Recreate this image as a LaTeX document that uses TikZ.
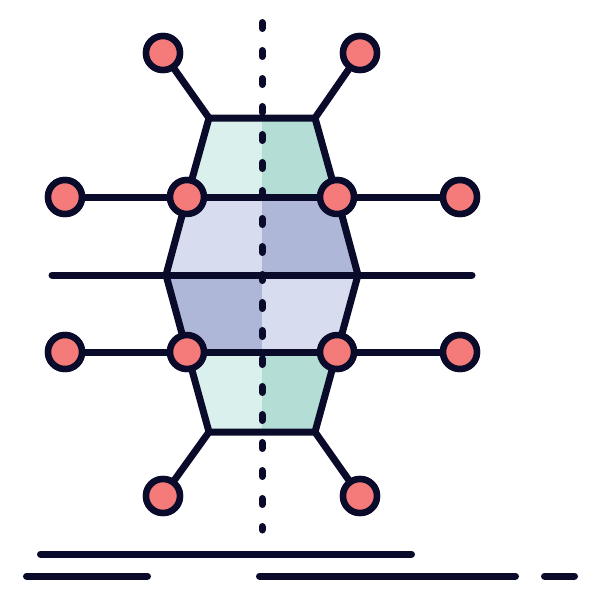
\documentclass[tikz,border=0pt]{standalone}
\usetikzlibrary{positioning}
\definecolor{ink}{HTML}{0A0B2B}
\definecolor{salmon}{HTML}{F47B79}
\definecolor{tealL}{HTML}{D9F0EC}
\definecolor{tealD}{HTML}{B4DED5}
\definecolor{lavL}{HTML}{D7DDEF}
\definecolor{lavD}{HTML}{AEB7D7}

\begin{document}
\begin{tikzpicture}[x=1pt,y=-1pt,line width=7pt,line cap=round,line join=round,
  dot/.style={circle,fill=salmon,draw=ink,line width=6.5pt,minimum size=34pt,inner sep=0pt}]
  \useasboundingbox (0,0) rectangle (600,600);
  % corners of the shape
  \coordinate (t1) at (209,118);
  \coordinate (t2) at (315,118);
  \coordinate (m1) at (166,275);
  \coordinate (m2) at (358,275);
  \coordinate (b1) at (209,432);
  \coordinate (b2) at (315,432);
  \coordinate (ml) at (52,275);
  \coordinate (mr) at (472,275);
  \coordinate (vt) at (262,22.5);
  \coordinate (vb) at (262,530);
  \node[dot] (1) at (65,197) {};
  \node[dot] (2) at (187,197) {};
  \node[dot] (3) at (337,197) {};
  \node[dot] (4) at (460,197) {};
  \node[dot] (5) at (65,352) {};
  \node[dot] (6) at (187,352) {};
  \node[dot] (7) at (337,352) {};
  \node[dot] (8) at (460,352) {};
  \node[dot] (9) at (163,53) {};
  \node[dot] (10) at (360,53) {};
  \node[dot] (11) at (163,496) {};
  \node[dot] (12) at (360,496) {};
  % bands
  \fill[tealL] (t1) -- (262,118) -- (262,197) -- (2.center) -- cycle;
  \fill[tealD] (262,118) -- (t2) -- (3.center) -- (262,197) -- cycle;
  \fill[lavL] (2.center) -- (262,197) -- (262,275) -- (m1) -- cycle;
  \fill[lavD] (262,197) -- (3.center) -- (m2) -- (262,275) -- cycle;
  \fill[lavD] (m1) -- (262,275) -- (262,352) -- (6.center) -- cycle;
  \fill[lavL] (262,275) -- (m2) -- (7.center) -- (262,352) -- cycle;
  \fill[tealL] (6.center) -- (262,352) -- (262,432) -- (b1) -- cycle;
  \fill[tealD] (262,352) -- (7.center) -- (b2) -- (262,432) -- cycle;
  % outline and links
  \draw[ink] (t1) -- (t2) -- (3.center) -- (m2) -- (7.center) -- (b2) -- (b1)
    -- (6.center) -- (m1) -- (2.center) -- cycle;
  \draw[ink] (1) -- (4);
  \draw[ink] (5) -- (8);
  \draw[ink] (ml) -- (mr);
  \draw[ink] (t1) -- (9);
  \draw[ink] (t2) -- (10);
  \draw[ink] (b1) -- (11);
  \draw[ink] (b2) -- (12);
  \draw[ink,dash pattern=on 6pt off 22pt] (vt) -- (vb);
  \foreach \n in {1,...,12} \node[dot] at (\n) {};
  % ground lines
  \draw[ink] (40.5,554) -- (411.5,554);
  \draw[ink] (26.5,576) -- (147.5,576);
  \draw[ink] (259.5,576) -- (515.5,576);
  \draw[ink] (544.5,576) -- (574.5,576);
\end{tikzpicture}
\end{document}
